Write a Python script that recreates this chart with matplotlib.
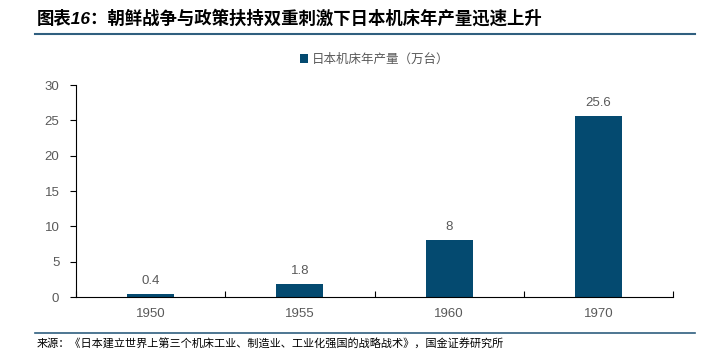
import matplotlib.pyplot as plt
import matplotlib.lines as mlines
import numpy as np

plt.rcParams['font.family'] = ['Liberation Sans', 'Noto Sans CJK SC', 'DejaVu Sans']

years = ['1950', '1955', '1960', '1970']
output = [0.4, 1.8, 8, 25.6]
value_labels = ['0.4', '1.8', '8', '25.6']
series_name = '日本机床年产量（万台）'
title = '图表16：朝鲜战争与政策扶持双重刺激下日本机床年产量迅速上升'
source = '来源：《日本建立世界上第三个机床工业、制造业、工业化强国的战略战术》，国金证券研究所'

bar_color = '#044A70'
text_gray = '#595959'
W, H = 710, 352

fig = plt.figure(figsize=(W / 100, H / 100), dpi=100)
ax = fig.add_axes([76 / W, 1 - 297 / H, (673 - 76) / W, (297 - 85) / H])

x = np.arange(len(years))
bars = ax.bar(x, output, width=0.315, color=bar_color, label=series_name)
for b, lab in zip(bars, value_labels):
    ax.text(b.get_x() + b.get_width() / 2, b.get_height() + 1.0, lab,
            ha='center', va='bottom', fontsize=9.5, color=text_gray)

ax.set_xlim(-0.5, len(years) - 0.5)
ax.set_ylim(0, 30)
ax.set_yticks(range(0, 31, 5))
ax.set_xticks(x)
ax.set_xticklabels(years)
ax.set_xticks(np.arange(-0.5, len(years), 1), minor=True)
ax.tick_params(axis='x', which='major', length=0, pad=8, labelsize=9.5, labelcolor=text_gray)
ax.tick_params(axis='x', which='minor', direction='in', length=4, width=0.8)
ax.tick_params(axis='y', length=4, width=0.8, pad=8, labelsize=9.5, labelcolor=text_gray)
for s in ['top', 'right']:
    ax.spines[s].set_visible(False)
ax.spines['left'].set_linewidth(0.8)
ax.spines['bottom'].set_linewidth(0.8)

ax.legend(loc='upper center', bbox_to_anchor=(0.5, 1.2), frameon=False,
          fontsize=9, labelcolor=text_gray, handlelength=0.7, handleheight=0.7,
          handletextpad=0.3)

fig.text(37 / W, 1 - 18 / H, title, fontsize=12.5, fontweight='bold',
         style='italic', va='center', ha='left', color='black')
fig.add_artist(mlines.Line2D([35 / W, 695 / W], [1 - 34 / H, 1 - 34 / H],
                             color='#2F5F7F', linewidth=1.5))
fig.add_artist(mlines.Line2D([35 / W, 695 / W], [1 - 333 / H, 1 - 333 / H],
                             color='#2F5F7F', linewidth=1.2))
fig.text(37 / W, 1 - 344 / H, source, fontsize=8, va='center', ha='left', color='black')

fig.savefig('out.png', dpi=100)
